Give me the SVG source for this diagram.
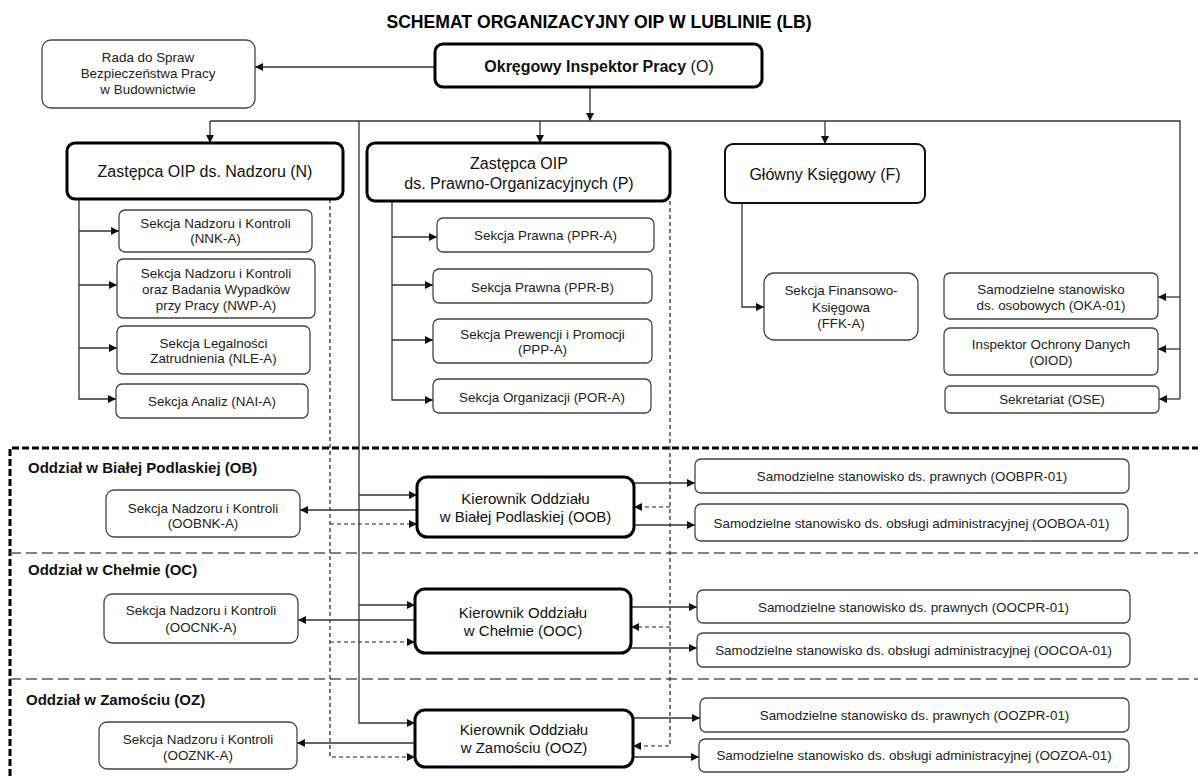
<svg xmlns="http://www.w3.org/2000/svg" width="1198" height="776" viewBox="0 0 1198 776">
<defs>
<marker id="ah" markerUnits="userSpaceOnUse" markerWidth="9" markerHeight="9" refX="8" refY="4" orient="auto"><path d="M0,0 L8,4 L0,8 z" fill="#111" stroke="none"/></marker>
<style>
.box{fill:#fff;stroke:#444;stroke-width:1.3}
.thick{fill:#fff;stroke:#000;stroke-width:3}
.mid{fill:#fff;stroke:#111;stroke-width:2}
.ln{fill:none;stroke:#333;stroke-width:1.3}
.dl{fill:none;stroke:#222;stroke-width:1.2;stroke-dasharray:4 3}
.t{font-family:"Liberation Sans",Arial,sans-serif;font-size:13.4px;fill:#222;text-anchor:middle}
.m{font-family:"Liberation Sans",Arial,sans-serif;font-size:16px;fill:#111;text-anchor:middle}
.k{font-family:"Liberation Sans",Arial,sans-serif;font-size:15px;fill:#111;text-anchor:middle}
.lbl{font-family:"Liberation Sans",Arial,sans-serif;font-size:15px;font-weight:bold;fill:#111}
</style>
</defs>
<rect width="1198" height="776" fill="#fff"/>
<text x="599" y="28" font-family="Liberation Sans, Arial, sans-serif" font-size="17.6" font-weight="bold" text-anchor="middle" fill="#000">SCHEMAT ORGANIZACYJNY OIP W LUBLINIE (LB)</text>

<g id="frame">
<path d="M10,776 V448 H1198" fill="none" stroke="#000" stroke-width="3" stroke-dasharray="7 3"/>
<path d="M10,553 H1198 M10,679 H1198" fill="none" stroke="#555" stroke-width="1.3" stroke-dasharray="11 5"/>
<text class="lbl" x="28" y="473">Oddział w Białej Podlaskiej (OB)</text>
<text class="lbl" x="28" y="575">Oddział w Chełmie (OC)</text>
<text class="lbl" x="26" y="705">Oddział w Zamościu (OZ)</text>
</g>

<g id="connectors">
<path class="ln" d="M435,67 H255" marker-end="url(#ah)"/>
<path class="ln" d="M590,87 V121" marker-end="url(#ah)"/>
<path class="ln" d="M210,121 H1180 V399"/>
<path class="ln" d="M210,121 V143" marker-end="url(#ah)"/>
<path class="ln" d="M540,121 V143" marker-end="url(#ah)"/>
<path class="ln" d="M825,121 V144" marker-end="url(#ah)"/>
<path class="ln" d="M1180,297 H1158" marker-end="url(#ah)"/>
<path class="ln" d="M1180,349 H1158" marker-end="url(#ah)"/>
<path class="ln" d="M1180,399 H1159" marker-end="url(#ah)"/>
<path class="ln" d="M79,199 V399 H116" marker-end="url(#ah)"/>
<path class="ln" d="M79,231 H119" marker-end="url(#ah)"/>
<path class="ln" d="M79,285 H117" marker-end="url(#ah)"/>
<path class="ln" d="M79,348 H117" marker-end="url(#ah)"/>
<path class="ln" d="M392,201 V400 H433" marker-end="url(#ah)"/>
<path class="ln" d="M392,237 H437" marker-end="url(#ah)"/>
<path class="ln" d="M392,285 H433" marker-end="url(#ah)"/>
<path class="ln" d="M392,340 H433" marker-end="url(#ah)"/>
<path class="ln" d="M742,203 V307 H764" marker-end="url(#ah)"/>
<path class="dl" d="M330,199 V757 H415" marker-end="url(#ah)"/>
<path class="dl" d="M330,524 H417" marker-end="url(#ah)"/>
<path class="dl" d="M330,642 H415" marker-end="url(#ah)"/>
<path class="dl" d="M670,201 V746 H633" marker-end="url(#ah)"/>
<path class="dl" d="M670,507 H634" marker-end="url(#ah)"/>
<path class="dl" d="M670,627 H631" marker-end="url(#ah)"/>
<path class="ln" d="M359,121 V723 H415" marker-end="url(#ah)"/>
<path class="ln" d="M359,495 H417" marker-end="url(#ah)"/>
<path class="ln" d="M359,605 H415" marker-end="url(#ah)"/>
<path class="ln" d="M417,510 H300" marker-end="url(#ah)"/>
<path class="ln" d="M415,620 H298" marker-end="url(#ah)"/>
<path class="ln" d="M415,743 H297" marker-end="url(#ah)"/>
<path class="ln" d="M634,483 H695" marker-end="url(#ah)"/>
<path class="ln" d="M634,525 H695" marker-end="url(#ah)"/>
<path class="ln" d="M631,607 H697" marker-end="url(#ah)"/>
<path class="ln" d="M631,648 H697" marker-end="url(#ah)"/>
<path class="ln" d="M633,718 H700" marker-end="url(#ah)"/>
<path class="ln" d="M633,757 H699" marker-end="url(#ah)"/>
</g>

<g id="rada"><rect class="box" x="42" y="40" width="213" height="68" rx="9"/>
<text class="t" x="148" y="62">Rada do Spraw</text><text class="t" x="148" y="78">Bezpieczeństwa Pracy</text><text class="t" x="148" y="94">w Budownictwie</text></g>

<g id="O"><rect class="thick" x="435" y="44" width="327" height="43" rx="8"/>
<text class="m" x="599" y="72"><tspan font-weight="bold">Okręgowy Inspektor Pracy</tspan> (O)</text></g>

<g id="N"><rect class="thick" x="67" y="143" width="276" height="56" rx="8"/>
<text class="m" x="205" y="177">Zastępca OIP ds. Nadzoru (N)</text></g>

<g id="P"><rect class="thick" x="367" y="143" width="303" height="58" rx="8"/>
<text class="m" x="519" y="169">Zastępca OIP</text><text class="m" x="519" y="189">ds. Prawno-Organizacyjnych (P)</text></g>

<g id="F"><rect class="mid" x="725" y="144" width="200" height="59" rx="8"/>
<text class="m" x="825" y="180">Główny Księgowy (F)</text></g>

<g id="NNK-A"><rect class="box" x="119" y="210" width="193" height="42" rx="6"/>
<text class="t" x="215.5" y="228">Sekcja Nadzoru i Kontroli</text><text class="t" x="215.5" y="243">(NNK-A)</text></g>
<g id="NWP-A"><rect class="box" x="117" y="259" width="198" height="59" rx="6"/>
<text class="t" x="216" y="278">Sekcja Nadzoru i Kontroli</text><text class="t" x="216" y="294">oraz Badania Wypadków</text><text class="t" x="216" y="310">przy Pracy (NWP-A)</text></g>
<g id="NLE-A"><rect class="box" x="117" y="326" width="193" height="48" rx="6"/>
<text class="t" x="213.5" y="348">Sekcja Legalności</text><text class="t" x="213.5" y="363">Zatrudnienia (NLE-A)</text></g>
<g id="NAI-A"><rect class="box" x="116" y="384" width="192" height="34" rx="6"/>
<text class="t" x="212" y="406">Sekcja Analiz (NAI-A)</text></g>

<g id="PPR-A"><rect class="box" x="437" y="218" width="217" height="34" rx="6"/>
<text class="t" x="545.5" y="240">Sekcja Prawna (PPR-A)</text></g>
<g id="PPR-B"><rect class="box" x="433" y="269" width="219" height="34" rx="6"/>
<text class="t" x="542.5" y="292">Sekcja Prawna (PPR-B)</text></g>
<g id="PPP-A"><rect class="box" x="433" y="319" width="219" height="44" rx="6"/>
<text class="t" x="542.5" y="339">Sekcja Prewencji i Promocji</text><text class="t" x="542.5" y="354">(PPP-A)</text></g>
<g id="POR-A"><rect class="box" x="433" y="379" width="218" height="34" rx="6"/>
<text class="t" x="542" y="402">Sekcja Organizacji (POR-A)</text></g>

<g id="FFK-A"><rect class="box" x="764" y="273" width="154" height="67" rx="10"/>
<text class="t" x="841" y="295">Sekcja Finansowo-</text><text class="t" x="841" y="312">Księgowa</text><text class="t" x="841" y="328">(FFK-A)</text></g>

<g id="OKA-01"><rect class="box" x="944" y="273" width="214" height="46" rx="6"/>
<text class="t" x="1051" y="294">Samodzielne stanowisko</text><text class="t" x="1051" y="310">ds. osobowych (OKA-01)</text></g>
<g id="OIOD"><rect class="box" x="944" y="328" width="214" height="47" rx="6"/>
<text class="t" x="1051" y="349">Inspektor Ochrony Danych</text><text class="t" x="1051" y="365">(OIOD)</text></g>
<g id="OSE"><rect class="box" x="945" y="386" width="214" height="27" rx="5"/>
<text class="t" x="1052" y="404">Sekretariat (OSE)</text></g>

<g id="OOBNK-A"><rect class="box" x="106" y="490" width="194" height="47" rx="8"/>
<text class="t" x="203" y="513">Sekcja Nadzoru i Kontroli</text><text class="t" x="203" y="528">(OOBNK-A)</text></g>
<g id="OOB"><rect class="thick" x="417" y="477" width="217" height="60" rx="10"/>
<text class="k" x="525.5" y="504">Kierownik Oddziału</text><text class="k" x="525.5" y="522">w Białej Podlaskiej (OOB)</text></g>
<g id="OOBPR-01"><rect class="box" x="695" y="459" width="434" height="34" rx="6"/>
<text class="t" x="912" y="481">Samodzielne stanowisko ds. prawnych (OOBPR-01)</text></g>
<g id="OOBOA-01"><rect class="box" x="695" y="504" width="433" height="37" rx="6"/>
<text class="t" x="911.5" y="528">Samodzielne stanowisko ds. obsługi administracyjnej (OOBOA-01)</text></g>

<g id="OOCNK-A"><rect class="box" x="104" y="594" width="194" height="49" rx="8"/>
<text class="t" x="201" y="615">Sekcja Nadzoru i Kontroli</text><text class="t" x="201" y="632">(OOCNK-A)</text></g>
<g id="OOC"><rect class="thick" x="415" y="589" width="216" height="64" rx="10"/>
<text class="k" x="523" y="618">Kierownik Oddziału</text><text class="k" x="523" y="636">w Chełmie (OOC)</text></g>
<g id="OOCPR-01"><rect class="box" x="697" y="590" width="433" height="33" rx="6"/>
<text class="t" x="913.5" y="612">Samodzielne stanowisko ds. prawnych (OOCPR-01)</text></g>
<g id="OOCOA-01"><rect class="box" x="697" y="633" width="433" height="34" rx="6"/>
<text class="t" x="913.5" y="655">Samodzielne stanowisko ds. obsługi administracyjnej (OOCOA-01)</text></g>

<g id="OOZNK-A"><rect class="box" x="99" y="722" width="198" height="47" rx="8"/>
<text class="t" x="198" y="744">Sekcja Nadzoru i Kontroli</text><text class="t" x="198" y="760">(OOZNK-A)</text></g>
<g id="OOZ"><rect class="thick" x="415" y="710" width="218" height="57" rx="10"/>
<text class="k" x="524" y="735">Kierownik Oddziału</text><text class="k" x="524" y="753">w Zamościu (OOZ)</text></g>
<g id="OOZPR-01"><rect class="box" x="700" y="698" width="429" height="34" rx="6"/>
<text class="t" x="914.5" y="720">Samodzielne stanowisko ds. prawnych (OOZPR-01)</text></g>
<g id="OOZOA-01"><rect class="box" x="699" y="739" width="430" height="33" rx="6"/>
<text class="t" x="914" y="760">Samodzielne stanowisko ds. obsługi administracyjnej (OOZOA-01)</text></g>
</svg>
